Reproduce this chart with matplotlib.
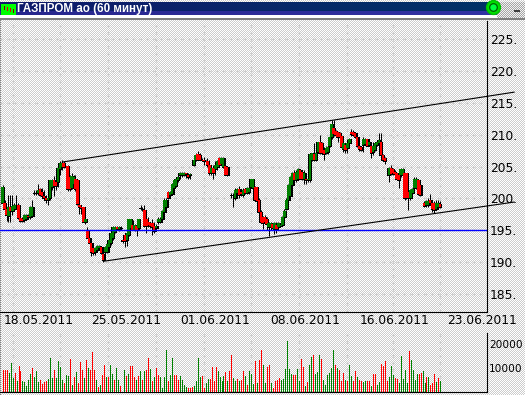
#!/usr/bin/env python

import numpy as np
import matplotlib.pyplot as plt
from matplotlib.lines import Line2D

n = np.nan

opens = [199.2, 199.3, 198.3, 197.2, 198.7, 198.0, 198.3, 199.0, 199.0, 196.9,
         196.7, 196.6, 196.8, 197.2, 197.1, 197.2, 200.9, 200.9, 200.9, 201.4,
         201.0, 200.3, 200.0, 199.7, 200.0, 201.8, 202.9, 202.6, 202.5, 204.6,
         204.9, 205.5, n, 205.1, 203.4, 201.6, 202.2, 203.0, 202.8, 198.9,
         198.7, 198.6, 196.3, 195.0, 193.8, 193.0, 192.1, 191.6, 191.9, 192.1,
         192.3, 191.3, 191.6, 191.6, 192.4, 193.0, 193.8, 194.7, 195.4, 195.1,
         195.3, 193.5, 194.2, 193.4, 194.2, 195.3, 195.8, 195.0, 195.6, 195.3,
         198.4, 198.3, 198.2, 196.7, 196.2, 196.1, 196.1, 195.6, 195.3, 196.2,
         196.3, 196.8, 197.9, 198.6, 201.0, 200.5, 200.7, 201.6, 201.9, 202.9,
         203.7, 203.7, 203.7, 203.9, 203.7, 203.6, n, 205.2, 206.0, 207.0,
         206.8, 206.1, 206.0, 205.9, 205.9, 205.2, 203.9, 204.7, 204.6, 205.0,
         206.3, 205.4, 205.0, 205.0, 205.0, n, 200.5, 200.5, 200.1, 200.8,
         201.4, 201.0, 200.5, 201.4, 200.9, 201.0, 201.7, 201.6, 201.8, 201.7,
         199.7, 197.9, 197.1, 197.1, 196.8, 195.4, 195.4, 196.0, 195.1, 195.8,
         195.4, 195.6, 195.8, 197.1, 198.3, 199.7, 200.3, 202.1, 204.0, 202.8,
         203.1, 204.5, 204.2, 203.1, 203.1, 202.8, 202.8, 206.0, 207.0, 206.0,
         207.3, 208.9, 208.7, 207.6, 207.1, 207.3, 208.2, 209.7, 211.0, 210.6,
         210.5, 210.3, 209.8, 207.7, 208.4, 207.9, 208.7, 210.5, 210.5, 210.3,
         209.7, 208.2, 208.1, 208.4, 208.6, 209.3, 208.4, 208.2, 207.3, 207.6,
         208.4, 208.7, 208.9, 206.8, 206.3, n, 203.7, 204.7, 204.6, 204.2,
         203.9, 203.7, 203.7, 203.7, 203.9, 203.9, 201.0, 200.0, 200.8, 201.6,
         201.6, 202.9, 202.1, n, 199.3, 199.0, 199.0, 199.7, 199.3, 199.2,
         198.3, 198.6, 199.1]
closes = [201.7, 198.3, 197.4, 198.7, 198.0, 198.8, 198.9, 198.9, 196.9, 196.5,
          196.4, 197.4, 197.4, 197.0, 198.6, 198.6, 200.9, 200.9, 201.3, 200.5,
          200.4, 200.0, 199.8, 200.0, 202.8, 202.9, 201.9, 201.9, 204.7, 205.5,
          205.6, 204.9, n, 201.4, 201.4, 203.5, 203.4, 201.4, 199.1, 198.6,
          198.4, 196.3, 196.8, 193.8, 193.0, 191.6, 191.4, 192.1, 192.5, 192.5,
          191.4, 190.3, 192.4, 192.8, 193.4, 194.5, 195.4, 195.4, 195.1, 195.4,
          195.3, 193.2, 193.2, 194.5, 196.7, 196.7, 195.0, 195.8, 195.0, 196.7,
          198.4, 198.3, 195.6, 195.6, 195.8, 195.6, 195.4, 194.9, 195.6, 196.7,
          196.8, 198.0, 199.8, 199.8, 200.0, 201.0, 202.2, 202.8, 203.1, 203.4,
          203.9, 203.9, 204.0, 203.8, 203.4, 203.8, n, 206.1, 206.8, 206.1,
          206.1, 206.1, 205.8, 205.9, 205.2, 204.0, 204.7, 203.9, 205.2, 205.8,
          205.2, 206.3, 206.3, 203.7, 203.6, n, 200.5, 200.5, 201.3, 201.4,
          200.5, 200.7, 201.3, 200.8, 201.6, 201.6, 203.0, 203.0, 199.7, 199.6,
          197.9, 196.3, 196.1, 196.2, 195.9, 196.1, 196.1, 195.3, 196.1, 195.1,
          196.1, 195.8, 197.1, 198.0, 199.7, 202.1, 203.4, 203.9, 202.9, 204.2,
          204.6, 203.1, 203.0, 203.9, 202.9, 203.1, 207.0, 207.1, 206.0, 207.1,
          208.8, 207.2, 207.1, 207.0, 207.9, 208.1, 209.7, 211.7, 210.1, 210.0,
          209.7, 209.7, 208.1, 208.7, 207.6, 208.7, 209.3, 210.1, 210.0, 209.7,
          208.2, 207.7, 207.6, 209.3, 209.3, 208.2, 208.9, 207.2, 208.2, 208.7,
          208.9, 209.1, 206.8, 206.0, 205.9, n, 204.7, 203.8, 203.9, 203.8,
          203.1, 202.9, 204.6, 204.6, 200.0, 200.0, 200.0, 201.3, 201.4, 203.1,
          203.1, 200.7, 200.5, n, 198.8, 199.6, 199.6, 199.3, 198.3, 198.2,
          199.3, 199.3, 198.7]
highs = [202.1, 199.7, 198.7, 200.5, 200.5, 200.5, 199.2, 200.5, 199.2, 197.1,
         197.1, 197.6, 197.6, 197.5, 198.8, 199.7, 201.3, 201.3, 202.2, 201.6,
         201.6, 201.3, 200.5, 200.3, 202.9, 203.1, 203.5, 203.1, 205.0, 205.8,
         206.0, 205.8, n, 205.2, 203.6, 203.9, 203.7, 203.7, 202.9, 198.9,
         198.8, 198.7, 197.4, 195.4, 194.0, 193.0, 192.4, 192.4, 192.7, 192.7,
         192.4, 191.6, 192.5, 193.0, 193.7, 194.7, 195.6, 195.6, 195.6, 195.6,
         195.6, 193.7, 194.5, 194.7, 196.8, 196.8, 196.6, 196.0, 196.6, 196.8,
         198.9, 198.6, 199.0, 196.8, 197.1, 196.2, 196.8, 196.3, 196.0, 197.0,
         197.0, 198.2, 200.0, 200.0, 201.2, 201.2, 202.4, 203.1, 203.3, 203.7,
         204.2, 204.1, 204.2, 204.0, 204.0, 204.0, n, 206.3, 207.1, 207.5,
         207.1, 206.4, 206.5, 206.1, 206.3, 206.0, 205.0, 205.2, 205.8, 206.0,
         206.5, 206.5, 206.5, 205.2, 205.1, n, 200.8, 200.8, 201.6, 201.6,
         201.9, 201.3, 201.6, 201.6, 201.8, 201.8, 203.1, 203.1, 201.9, 201.8,
         200.0, 198.2, 197.2, 197.3, 197.1, 196.3, 196.3, 196.1, 196.3, 196.3,
         196.3, 196.1, 197.2, 198.3, 200.0, 202.3, 203.5, 204.2, 204.5, 204.4,
         204.7, 204.6, 204.4, 204.5, 203.7, 203.3, 207.1, 207.2, 208.7, 207.2,
         208.9, 210.0, 208.9, 208.1, 208.2, 208.9, 209.9, 212.3, 212.3, 210.8,
         210.5, 210.5, 210.0, 209.4, 208.7, 209.4, 209.5, 210.9, 210.8, 210.5,
         210.2, 208.4, 208.3, 209.6, 209.5, 209.4, 209.1, 208.7, 208.9, 208.9,
         209.1, 210.2, 210.2, 207.0, 206.5, n, 205.0, 205.2, 204.8, 204.4,
         204.0, 203.9, 204.7, 204.8, 204.0, 204.0, 201.1, 201.5, 201.6, 203.3,
         203.3, 203.0, 202.3, n, 199.6, 199.8, 200.0, 200.7, 199.6, 199.5,
         199.7, 199.7, 199.5]
lows = [198.9, 197.9, 196.5, 196.3, 196.3, 197.4, 198.2, 198.7, 196.8, 196.2,
        196.2, 196.3, 196.6, 196.7, 196.8, 197.1, 200.5, 200.5, 200.5, 200.3,
        200.0, 199.7, 199.2, 198.9, 199.7, 201.3, 200.4, 201.3, 201.8, 203.7,
        204.5, 204.7, n, 201.2, 201.2, 201.4, 201.9, 201.2, 198.9, 197.6,
        197.6, 196.2, 196.0, 193.7, 192.9, 190.9, 191.1, 191.1, 191.6, 191.9,
        191.2, 190.0, 191.3, 191.4, 192.1, 192.7, 193.5, 194.5, 195.0, 194.9,
        195.0, 193.0, 192.4, 192.5, 194.0, 195.0, 195.0, 194.8, 194.1, 195.0,
        198.2, 198.0, 195.4, 194.5, 195.4, 195.3, 194.2, 194.5, 195.0, 196.0,
        196.1, 196.6, 197.6, 198.4, 199.9, 200.3, 200.5, 201.3, 201.8, 202.6,
        203.1, 203.4, 203.5, 203.2, 203.0, 203.1, n, 205.1, 205.8, 206.0,
        206.0, 205.9, 205.2, 205.4, 204.9, 203.7, 203.7, 203.1, 203.7, 204.5,
        205.0, 205.2, 204.7, 203.6, 203.5, n, 200.1, 198.6, 199.8, 200.6,
        200.1, 200.4, 200.2, 200.6, 200.7, 200.7, 201.6, 201.4, 199.6, 199.5,
        197.6, 196.1, 195.1, 195.9, 195.0, 194.1, 195.0, 195.1, 194.4, 194.5,
        195.2, 195.4, 195.6, 195.8, 198.1, 199.5, 200.1, 201.9, 202.1, 202.6,
        202.9, 203.0, 202.8, 202.2, 202.2, 202.6, 202.6, 205.8, 205.8, 205.8,
        207.1, 207.0, 207.0, 206.1, 206.9, 207.0, 208.0, 209.4, 209.8, 209.8,
        208.9, 208.1, 208.0, 207.3, 207.2, 207.2, 208.5, 209.8, 209.8, 209.5,
        208.1, 207.5, 207.4, 207.3, 208.4, 208.2, 208.2, 206.3, 206.8, 207.4,
        208.2, 208.5, 206.7, 205.8, 205.4, n, 202.6, 203.7, 203.7, 203.6,
        202.8, 201.6, 203.4, 203.5, 199.8, 199.9, 198.1, 199.8, 200.5, 201.4,
        201.4, 200.5, 200.3, n, 198.6, 198.7, 198.7, 199.2, 197.9, 197.7,
        198.2, 198.4, 198.4]

volumes = [9000, 9300, 9300, 7900, 12100, 5800, 7900, 4400, 11000, 8600,
           4700, 4000, 2400, 5100, 7600, 10000, 6300, 8900, 4000, 5100,
           3500, 4000, 4700, 5600, 14200, 5800, 9300, 5800, 12800, 10300,
           5100, 3800, 7200, 6800, 13800, 3100, 6300, 8200, 3800, 12400,
           9300, 5800, 13500, 10100, 9300, 16500, 9000, 5100, 2100, 3100,
           7200, 11100, 6100, 6100, 11400, 7600, 5100, 10000, 5100, 2600,
           0,
           9300, 6800, 7600, 10700, 11000, 6100, 5100, 6800, 8600, 5100,
           8600, 9000, 14200, 9600, 4400, 6300, 10000, 7200, 6300, 1700,
           6300, 17700, 4700, 7200, 14200, 7200, 7200, 5100, 6800, 4900,
           3100, 1900, 1800, 1800, 2100, 2400, 4400, 14200, 6100, 6500,
           1700, 3800, 5600, 5600, 10400, 4400, 10400, 8900, 6300, 4400,
           6500, 8200, 4400, 8600, 15600, 5800, 4700, 5600, 4400, 5100,
           8900, 6800, 2800, 8600, 7600, 3500, 12800, 3800, 13500, 17400,
           11100,
           3800, 10300, 11400, 3800, 1700, 4400, 5100, 5800, 5100, 5400,
           9700, 21400, 9700, 7600, 7200, 7200, 9700, 4700, 13900, 10300,
           2600, 4000, 11400, 14500, 15600, 7600, 8200, 15300, 13900, 5100,
           2800, 7200, 7900, 10000, 17700, 11400, 10000, 9300, 4400, 7900,
           5100, 4700, 11400, 6800, 4400, 8600, 6300, 5100, 4400, 4000,
           4700, 4700, 4700, 2400, 7600, 7600, 3100, 4200, 11800, 11000,
           12800, 4700, 6300, 10700, 7000, 5800, 5600, 3800, 14900, 5600,
           9000, 3800, 17200, 13500, 9300, 4900, 7600, 7400, 7900, 8600,
           3800, 6300, 6300, 3100, 3800, 7600, 4000, 5800, 4700]
volume_sides = ('rrrgggrgrr' 'gggggrgggr' 'rrrgggrggg' 'grggrgrgrr' 'rgrgrrrgrg'
                'rrgrggrggr' 'g'
                'grgrrrgrgr' 'grrgrgrrgg' 'ggrggrrrgg' 'ggrrrggggr'
                'rggrrrrggg' 'grgrrggrgr' 'rgrgggrgrr' 'g'
                'grrgrrrrgg' 'ggggrrggrr' 'grggrgggrg' 'gggggrgrrr'
                'grggrrgrrg' 'grrgrrggrr' 'rrgggrrggg' 'ggrggggrrg' 'grgrrrgrg')

price_ticks = [185, 190, 195, 200, 205, 210, 215, 220, 225]
volume_ticks = [10000, 20000]
date_pos = [18, 62, 107, 152, 197, 241]
date_labels = ['18.05.2011', '25.05.2011', '01.06.2011', '08.06.2011',
               '16.06.2011', '23.06.2011']
grid_pos = [5, 29, 53, 77, 101, 125, 149, 173, 196, 220]

support = 195.0
upper_x = [30, 257]
upper_y = [205.7, 216.7]
lower_x = [51, 257]
lower_y = [190.1, 199.4]

green = '#008000'
red = '#ff0000'
grid_c = '#cccccc'
w, h = 525, 395
fs = 8.8


def background():
    yy, xx = np.mgrid[0:h, 0:w]
    img = np.where(((xx + yy) % 2 == 0)[..., None], [1., 1., 1.], [.80, .80, .80])
    # title bar
    t = np.linspace(0, 1, w)[:, None]
    img[2:11] = (1 - t) * np.array([.06, .10, .42]) + t * np.array([0., .2, .4])
    img[11:15] = (1 - t) * np.array([.15, .15, .55]) + t * np.array([.2, .2, .65])
    img[15:18] = 1.
    img[18:20] = .5
    img[2:18, 497:] = np.where(((xx + yy) % 2 == 0)[2:18, 497:, None], [.95] * 3, [.65] * 3)
    img[10:12, 514:520] = .25
    # icon
    img[4:15, 1:16] = [0., 1., 0.]
    img[6:10, 4:5] = [.5, 0., 0.]
    img[7:11, 7:8] = [.9, 0., 0.]
    img[8:12, 10:11] = [.9, 0., 0.]
    img[9:13, 13:14] = [.5, 0., 0.]
    img[20:, 0] = np.where(yy[20:, 0, None] % 2 == 0, [.5] * 3, [.8] * 3)
    return img


def main():
    fig = plt.figure(figsize=(w / 100, h / 100), dpi=100)
    fig.figimage(background(), 0, 0, origin='upper', zorder=-5)

    ax = fig.add_axes([0, 1 - 312 / h, 487 / w, 291 / h])
    vax = fig.add_axes([0, 1 - 392 / h, 487 / w, 59 / h])
    xlim = (-1.3, 243.4)

    o = np.array(opens)
    c = np.array(closes)
    xs = np.arange(len(o)) * .99
    up = c >= o
    ax.vlines(xs, lows, highs, color='k', lw=.72, zorder=3)
    # black outline first, colour on top, since neighbours overlap
    ax.bar(xs, np.abs(c - o), bottom=np.minimum(o, c), width=1.5, color='k',
           edgecolor='k', lw=.72, antialiased=False, zorder=3)
    ax.bar(xs, np.abs(c - o), bottom=np.minimum(o, c), width=1.2,
           color=[green if u else red for u in up], lw=0,
           antialiased=False, zorder=3)

    ax.axhline(support, color='#0000ff', lw=1, zorder=4)
    ax.plot(upper_x, upper_y, color='k', lw=.8, clip_on=False, zorder=5)
    ax.plot(lower_x, lower_y, color='k', lw=.8, clip_on=False, zorder=5)

    ax.set_xlim(xlim)
    ax.set_ylim(182.1, 227.9)
    ax.set_yticks(price_ticks)
    ax.set_yticklabels(['%d.' % p for p in price_ticks])
    ax.set_xticks(date_pos)
    ax.set_xticklabels(date_labels)
    ax.set_xticks(grid_pos, minor=True)
    ax.grid(True, which='minor', axis='x', color=grid_c, lw=1, ls=(0, (2, 3)))
    ax.grid(True, which='major', axis='y', color=grid_c, lw=1, ls=(0, (2, 3)))
    ax.tick_params(axis='both', which='both', length=0, labelsize=fs)
    ax.tick_params(axis='x', pad=1.5)
    ax.yaxis.tick_right()
    ax.tick_params(axis='y', pad=2)

    vx = np.arange(len(volumes))
    vax.vlines(vx, 0, volumes, lw=.72, antialiased=False,
               colors=[green if s == 'g' else red for s in volume_sides])
    vax.set_xlim(xlim)
    vax.set_ylim(0, 24583)
    vax.set_xticks([])
    vax.set_xticks(grid_pos, minor=True)
    vax.set_yticks(volume_ticks)
    vax.set_yticklabels(['%d' % v for v in volume_ticks])
    vax.grid(True, which='minor', axis='x', color=grid_c, lw=1, ls=(0, (2, 3)))
    vax.tick_params(axis='both', which='both', length=0, labelsize=7.6)
    vax.yaxis.tick_right()
    vax.tick_params(axis='y', pad=1.5)

    for a in (ax, vax):
        a.patch.set_alpha(0)
        a.set_axisbelow(True)
        a.spines['top'].set_visible(False)
        a.spines['left'].set_visible(False)
        a.spines['right'].set_linewidth(.8)
        a.spines['bottom'].set_linewidth(.8)

    fig.text(17 / w, 1 - 9 / h, 'ГАЗПРОМ ао (60 минут)', color='white',
             family='Liberation Sans', fontweight='bold', fontsize=8.4,
             va='center', ha='left')
    cx, cy = 493 / w, 1 - 7 / h
    fig.add_artist(Line2D([cx], [cy], marker='o', ms=10, mfc='#00e000', mec='#00c000',
                          transform=fig.transFigure))
    fig.add_artist(Line2D([cx], [cy], marker='o', ms=5.5, mfc='#00ff40', mec='#006000',
                          mew=.9, transform=fig.transFigure))

    plt.savefig('out.png', dpi=100)
    plt.close()


if __name__ == "__main__":
    main()
